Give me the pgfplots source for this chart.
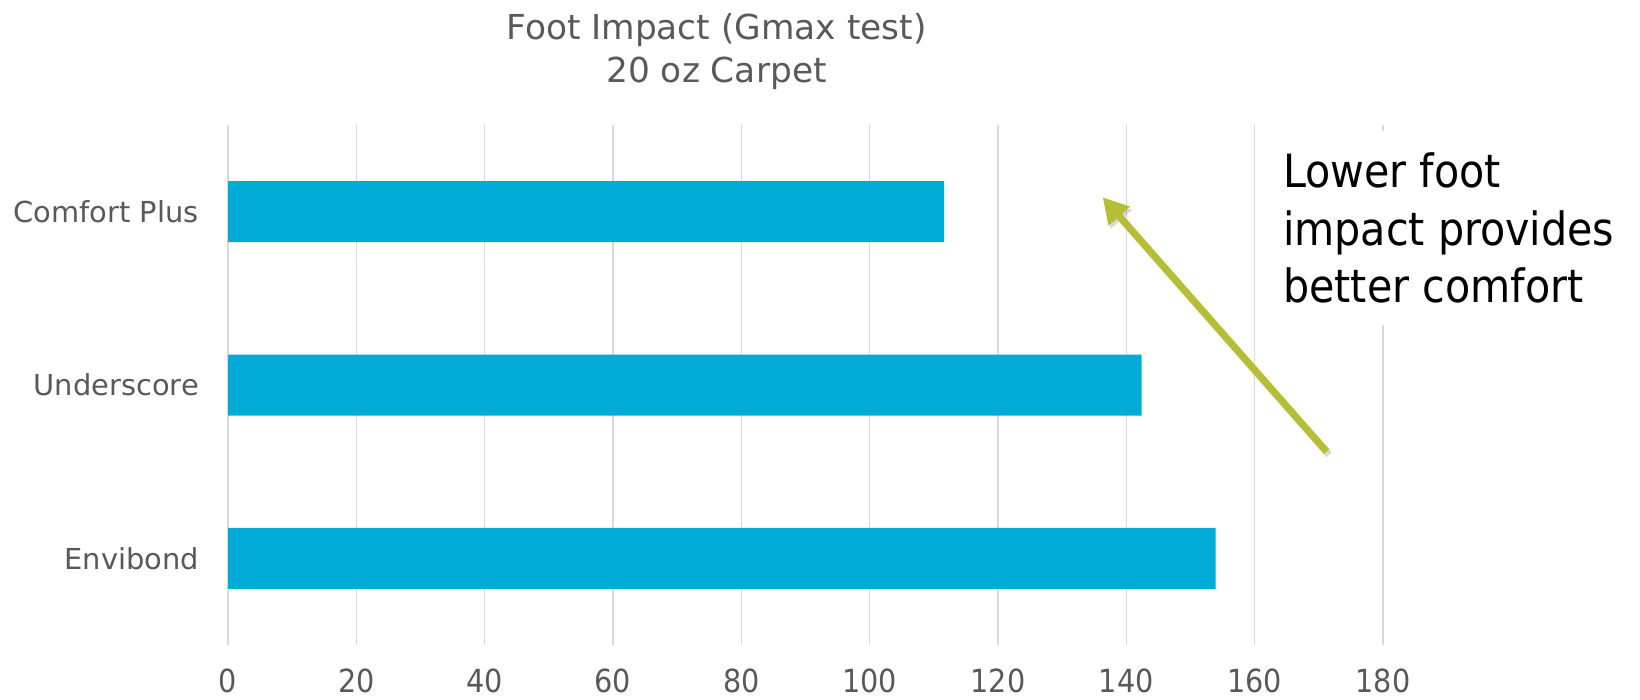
\documentclass[border=0pt]{standalone}
\usepackage{fontspec}
\setmainfont{DejaVu Sans}
\newfontfamily\condfont{DejaVu Sans Condensed}
\usepackage{pgfplots}
\pgfplotsset{compat=1.18}
\usetikzlibrary{arrows.meta}
\definecolor{barblue}{RGB}{0,172,214}
\definecolor{labelgray}{RGB}{89,89,89}
\definecolor{gridgray}{RGB}{217,217,217}
\definecolor{arrowgreen}{RGB}{181,190,53}

\begin{document}
\begin{tikzpicture}[x=1bp,y=1bp]
\path[use as bounding box] (0,0) rectangle (1640,-700);
\begin{axis}[
  at={(228bp,-645bp)}, anchor=south west,
  scale only axis, width=1155bp, height=520bp,
  xbar, bar width=61bp,
  xmin=0, xmax=180, ymin=-0.5, ymax=2.5,
  xtick={0,20,...,180}, ytick={0,1,2},
  yticklabels={Envibond,Underscore,Comfort Plus},
  xmajorgrids, grid style={gridgray, line width=1.5bp},
  axis line style={draw=none}, major tick length=0pt,
  /pgf/number format/assume math mode=true,
  ticklabel style={text=labelgray, inner sep=0pt},
  xticklabel style={font=\condfont\fontsize{32}{38}\selectfont, yshift=-24bp},
  yticklabel style={font=\fontsize{29}{35}\selectfont, xshift=-29bp},
]
\addplot[draw=none, fill=barblue] coordinates {(153.9,0) (142.4,1) (111.6,2)};
\end{axis}

% title
\node[anchor=base, inner sep=0pt, text=labelgray, font=\fontsize{34.5}{40}\selectfont] at (716.5,-40) {Foot Impact (Gmax test)};
\node[anchor=base, inner sep=0pt, text=labelgray, font=\fontsize{34.5}{40}\selectfont] at (716.5,-83) {20 oz Carpet};

% callout
\fill[white] (1268,-131) rectangle (1640,-325);
\node[anchor=base west, inner sep=0pt, font=\condfont\fontsize{46}{56}\selectfont] at (1283,-187) {Lower foot};
\node[anchor=base west, inner sep=0pt, font=\condfont\fontsize{46}{56}\selectfont] at (1283,-245) {impact provides};
\node[anchor=base west, inner sep=0pt, font=\condfont\fontsize{46}{56}\selectfont] at (1283,-302) {better comfort};

\draw[line width=7bp, black, opacity=0.15, -{Triangle[width=27bp,length=25bp]}] (1329,-455) -- (1105,-200.5);
\draw[line width=7bp, arrowgreen, -{Triangle[width=27bp,length=25bp]}] (1326.7,-451.7) -- (1102.7,-197.3);
\end{tikzpicture}
\end{document}
